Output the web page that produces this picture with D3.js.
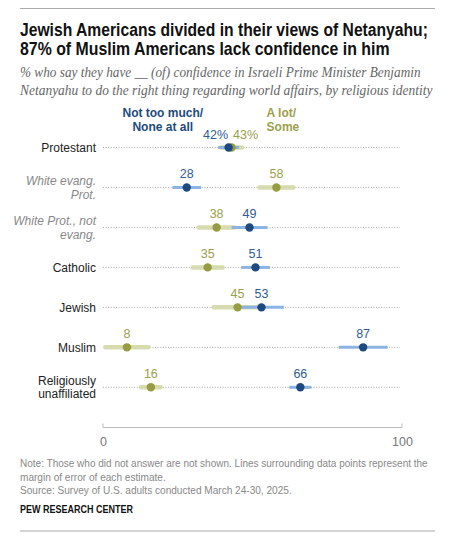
<!DOCTYPE html>
<html>
<head>
<meta charset="utf-8">
<script src="https://cdn.jsdelivr.net/npm/d3@7"></script>
<style>
  body { margin: 0; background: #fff; }
  svg { display: block; font-family: "Liberation Sans", Arial, sans-serif; }
</style>
</head>
<body>
<div id="chart"></div>
<script>
// Data
const categories = ["Protestant", "White evang. Prot.", "White Prot., not evang.", "Catholic", "Jewish", "Muslim", "Religiously unaffiliated"];
const categoryLines = [["Protestant"], ["White evang.", "Prot."], ["White Prot., not", "evang."], ["Catholic"], ["Jewish"], ["Muslim"], ["Religiously", "unaffiliated"]];
const subgroups = ["White evang. Prot.", "White Prot., not evang."];
const noneValues = [42, 28, 49, 51, 53, 87, 66];   // Not too much / None at all
const lotValues = [43, 58, 38, 35, 45, 8, 16];     // A lot / Some
const noneMoe = [3.5, 4.8, 6, 4.8, 7.5, 8.2, 3.7];
const lotMoe = [3.5, 5.7, 6, 5, 8, 7.2, 3.3];
const xTicks = [0, 100];

const width = 457, height = 548;
const blue = "#1e4a80", blueLight = "#8db3e2", blueText = "#2f5c92";
const green = "#959c42", greenLight = "#d6dcb0", greenText = "#9ba04b";

const svg = d3.select("#chart").append("svg")
    .attr("width", width)
    .attr("height", height);

// text line at (x0, y0), squeezed horizontally when it runs longer than w
function fitText(x0, y0, w) {
    const t = svg.append("text").attr("x", 0).attr("y", 0)
        .attr("transform", `translate(${x0},${y0})`);
    t.squeeze = () => {
        const natural = t.node().getComputedTextLength();
        const k = natural > w ? w / natural : 1;
        t.attr("transform", `translate(${x0},${y0}) scale(${k},1)`);
        return t;
    };
    return t;
}

// Top and bottom rules
svg.append("line").attr("x1", 20).attr("x2", 435).attr("y1", 8.5).attr("y2", 8.5)
    .attr("stroke", "#aaa").attr("stroke-width", 1.2);
svg.append("line").attr("x1", 20).attr("x2", 435).attr("y1", 531).attr("y2", 531)
    .attr("stroke", "#aaa").attr("stroke-width", 1.2);

// Title
const titleLines = ["Jewish Americans divided in their views of Netanyahu;", "87% of Muslim Americans lack confidence in him"];
const titleWidths = [408, 370];
titleLines.forEach((t, i) => {
    fitText(20, 35.5 + i * 19.5, titleWidths[i])
        .attr("font-size", 17.5).attr("font-weight", "bold").attr("fill", "#111")
        .text(t).squeeze();
});

// Subtitle
const subLines = ["% who say they have __ (of) confidence in Israeli Prime Minister Benjamin",
    "Netanyahu to do the right thing regarding world affairs, by religious identity"];
const subWidths = [401, 413];
subLines.forEach((t, i) => {
    fitText(20, 77 + i * 17.5, subWidths[i])
        .attr("font-family", "'Liberation Serif', Georgia, serif")
        .attr("font-style", "italic").attr("font-size", 14).attr("fill", "#666")
        .text(t).squeeze();
});

// Scales
const x = d3.scaleLinear().domain([0, 100]).range([103, 402]);
const y = d3.scalePoint().domain(categories).range([147.5, 387.3]);

// Legend
const legBlue = svg.append("text").attr("font-size", 12).attr("font-weight", "bold")
    .attr("fill", blue).attr("text-anchor", "middle");
["Not too much/", "None at all"].forEach((t, i) => {
    legBlue.append("tspan").attr("x", x(20)).attr("y", 117 + i * 14).text(t);
});
const legGreen = svg.append("text").attr("font-size", 12).attr("font-weight", "bold")
    .attr("fill", greenText).attr("text-anchor", "start");
["A lot/", "Some"].forEach((t, i) => {
    legGreen.append("tspan").attr("x", x(54.7)).attr("y", 117 + i * 14).text(t);
});

const rows = categories.map((c, i) => ({
    cat: c, lines: categoryLines[i],
    none: noneValues[i], lot: lotValues[i],
    noneMoe: noneMoe[i], lotMoe: lotMoe[i], first: i === 0
}));

// Dotted guide lines
svg.append("g").selectAll("line").data(rows).join("line")
    .attr("x1", x(0)).attr("x2", x(99.3))
    .attr("y1", d => y(d.cat)).attr("y2", d => y(d.cat))
    .attr("stroke", "#999").attr("stroke-width", 0.8).attr("stroke-dasharray", "1,1.6");

// Row labels
const labels = svg.append("g").selectAll("text").data(rows).join("text")
    .attr("text-anchor", "end")
    .attr("font-size", 12)
    .attr("font-style", d => subgroups.includes(d.cat) ? "italic" : "normal")
    .attr("fill", d => subgroups.includes(d.cat) ? "#888" : "#222");
labels.each(function (d) {
    const n = d.lines.length;
    const y0 = y(d.cat) + 4.3 - (n - 1) * 6.7;
    d3.select(this).selectAll("tspan").data(d.lines).join("tspan")
        .attr("x", 96).attr("y", (t, j) => y0 + j * 13.5).text(t => t);
});

// Margin of error bars
svg.append("g").selectAll("line").data(rows).join("line")
    .attr("x1", d => x(Math.max(0, d.lot - d.lotMoe))).attr("x2", d => x(d.lot + d.lotMoe))
    .attr("y1", d => y(d.cat)).attr("y2", d => y(d.cat))
    .attr("stroke", greenLight).attr("stroke-width", 4.5).attr("stroke-linecap", "round");
svg.append("g").selectAll("line").data(rows).join("line")
    .attr("x1", d => x(d.none - d.noneMoe)).attr("x2", d => x(Math.min(100, d.none + d.noneMoe)))
    .attr("y1", d => y(d.cat)).attr("y2", d => y(d.cat))
    .attr("stroke", blueLight).attr("stroke-width", 3).attr("stroke-linecap", "butt");

// Dots
svg.append("g").selectAll("circle").data(rows).join("circle")
    .attr("cx", d => x(d.lot)).attr("cy", d => y(d.cat)).attr("r", 4.2)
    .attr("fill", green);
svg.append("g").selectAll("circle").data(rows).join("circle")
    .attr("cx", d => x(d.none)).attr("cy", d => y(d.cat)).attr("r", 4.2)
    .attr("fill", blue);

// Value labels (nudged apart when the two points nearly touch)
function placeLabels(key, color, side) {
    svg.append("g").selectAll("text").data(rows).join("text")
        .attr("font-size", 12.5)
        .attr("fill", color)
        .attr("y", d => y(d.cat) - 9)
        .attr("x", d => {
            if (Math.abs(d.none - d.lot) < 5) {
                const mid = x((d.none + d.lot) / 2);
                return side < 0 ? mid - 2 : mid + 3;
            }
            return x(d[key]);
        })
        .attr("text-anchor", d => Math.abs(d.none - d.lot) < 5 ? (side < 0 ? "end" : "start") : "middle")
        .text(d => d[key] + (d.first ? "%" : ""));
}
placeLabels("none", blueText, noneValues[0] <= lotValues[0] ? -1 : 1);
placeLabels("lot", greenText, noneValues[0] <= lotValues[0] ? 1 : -1);

// X axis
const axis = svg.append("g")
    .attr("transform", "translate(0,427.5)")
    .call(d3.axisBottom(x).tickValues(xTicks).tickSize(-4).tickPadding(10).tickFormat(d3.format("d")));
axis.select(".domain").attr("stroke", "#bbb").attr("d", `M${x(0)},-4V0H${x(100)}V-4`);
axis.selectAll(".tick line").remove();
axis.selectAll(".tick text").attr("font-size", 12.5).attr("fill", "#777")
    .attr("font-family", "'Liberation Sans', Arial, sans-serif").attr("dy", "0.35em").attr("y", 14);

// Notes
const notes = [
    ["Note: Those who did not answer are not shown. Lines surrounding data points represent the", 408],
    ["margin of error of each estimate.", 146],
    ["Source: Survey of U.S. adults conducted March 24-30, 2025.", 272]
];
notes.forEach(([t, w], i) => {
    fitText(20, 467 + i * 13.5, w)
        .attr("font-size", 10.8).attr("fill", "#888").text(t).squeeze();
});
fitText(20, 513, 113)
    .attr("font-size", 10.8).attr("font-weight", "bold").attr("fill", "#111")
    .text("PEW RESEARCH CENTER").squeeze();
</script>
</body>
</html>
